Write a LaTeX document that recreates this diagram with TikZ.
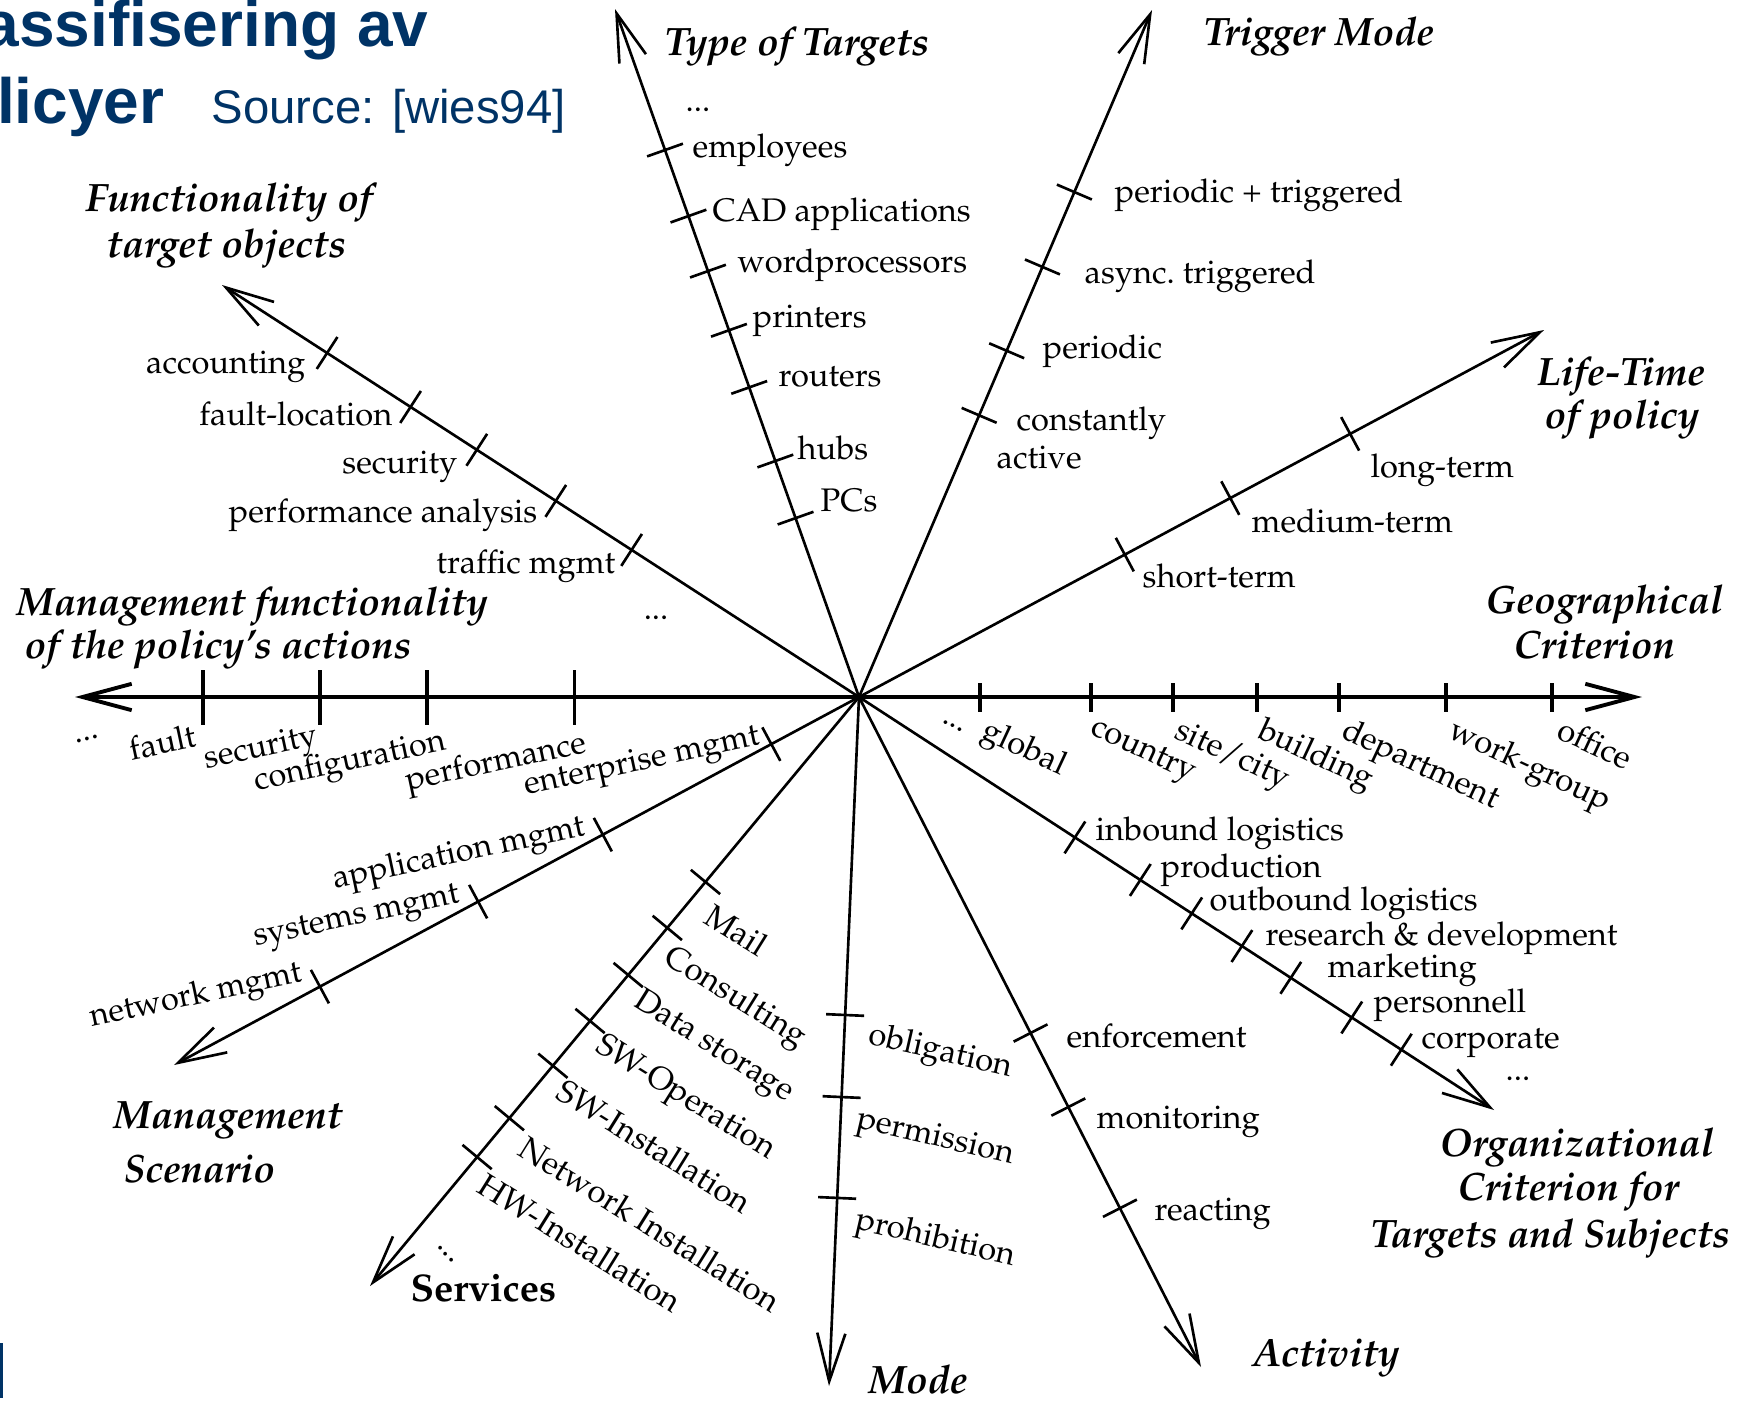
\documentclass[tikz,border=0pt]{standalone}
\usepackage{fontspec}
\newfontfamily\sansT{Liberation Sans}
\usepackage[T1]{fontenc}
\usepackage{mathpazo}
\usetikzlibrary{arrows.meta,calc}
\definecolor{titleblue}{RGB}{0,51,102}
\newcommand\lblfont{\fontsize{9.28}{11}\selectfont}
\newcommand\ttlfont{\fontsize{11.25}{13}\selectfont\bfseries\itshape}
\newcommand\svfont{\fontsize{10.95}{13}\selectfont\bfseries}
\newcommand\axticks[2]{\foreach \f in {#2}{\coordinate (tk) at ($(C)!\f!(#1)$);
  \draw[tickmark] ($(tk)!0.19cm!90:(#1)$) -- ($(tk)!0.19cm!-90:(#1)$);}}
\tikzset{
  axisline/.style={line width=0.75pt,-{Straight Barb[length=13.7pt,width=8pt]}},
  hline/.style={line width=1.1pt,-{Straight Barb[length=14pt,width=7.5pt]}},
  tickmark/.style={line width=0.75pt},
  htick/.style={line width=1.1pt},
  lbl/.style={inner sep=0pt,font=\lblfont},
  ttl/.style={inner sep=0pt,font=\ttlfont},
}
\begin{document}
\begin{tikzpicture}[x=0.01cm,y=-0.01cm]
\useasboundingbox (0,0) rectangle (1743,1403);
\clip (0,0) rectangle (1743,1403);
% title
\node[inner sep=0pt,anchor=base east,text=titleblue,font=\sansT\fontsize{18.2}{20}\selectfont\bfseries] (ttl1) at (429,47) {assifisering av};
\node[inner sep=0pt,anchor=base east,text=titleblue,font=\sansT\fontsize{18.2}{20}\selectfont\bfseries] (ttl2) at (165,123) {licyer};
\node[inner sep=0pt,anchor=base west,text=titleblue,font=\sansT\fontsize{13.45}{16}\selectfont] (src) at (211,123) {Source: [wies94]};
\fill[titleblue] (0,1343) rectangle (3,1398);
% axes
\coordinate (C) at (859,697);
\coordinate (TT) at (615,9);
\coordinate (TM) at (1152,10);
\coordinate (LT) at (1544,330);
\coordinate (GE) at (1642,697);
\coordinate (MF) at (75,697);
\coordinate (FO) at (222,285);
\coordinate (MS) at (174,1065);
\coordinate (SV) at (370,1286);
\coordinate (MO) at (829,1386);
\coordinate (AC) at (1201,1367);
\coordinate (OC) at (1494,1110);
\foreach \t in {TT,TM,LT,FO,MS,SV,MO,AC,OC} \draw[axisline] (C) -- (\t);
\draw[hline] (C) -- (GE);
\draw[hline] (C) -- (MF);
% ticks
\axticks{TT}{0.260,0.343,0.450,0.533,0.619,0.699,0.795}
\axticks{TM}{0.410,0.504,0.626,0.735}
\axticks{LT}{0.388,0.542,0.717}
\axticks{FO}{0.357,0.476,0.600,0.704,0.835}
\axticks{MS}{0.128,0.374,0.556,0.787}
\axticks{SV}{0.314,0.392,0.472,0.550,0.626,0.715,0.781}
\axticks{MO}{0.4615,0.5806,0.727}
\axticks{AC}{0.5015,0.612,0.763}
\axticks{OC}{0.340,0.443,0.524,0.603,0.680,0.776,0.854}
\foreach \x in {980,1091,1173,1257,1339,1446,1552} \draw[htick] (\x,683) -- (\x,712);
\foreach \x in {202.6,320,427,574.5} \draw[htick] (\x,670) -- (\x,725);
% Type of Targets
\node[ttl,anchor=base west] (tTT) at (664,55) {Type of Targets};
\node[lbl,anchor=base west] (tt0) at (685,111) {...};
\node[lbl,anchor=base west] (tt1) at (692,157) {employees};
\node[lbl,anchor=base west] (tt2) at (712,221) {CAD applications};
\node[lbl,anchor=base west] (tt3) at (737,272) {wordprocessors};
\node[lbl,anchor=base west] (tt4) at (752,327) {printers};
\node[lbl,anchor=base west] (tt5) at (778,386) {routers};
\node[lbl,anchor=base west] (tt6) at (797,459) {hubs};
\node[lbl,anchor=base west] (tt7) at (820,511) {PCs};
% Trigger Mode
\node[ttl,anchor=base west] (tTM) at (1203,45) {Trigger Mode};
\node[lbl,anchor=base west] (tm1) at (1114,202) {periodic + triggered};
\node[lbl,anchor=base west] (tm2) at (1084,283) {async.\ triggered};
\node[lbl,anchor=base west] (tm3) at (1042,358) {periodic};
\node[lbl,anchor=base west] (tm4) at (1016,430) {constantly};
\node[lbl,anchor=base west] (tm5) at (996,468) {active};
% Life-Time
\node[ttl,anchor=base west] (tLT1) at (1536,385) {Life-Time};
\node[ttl,anchor=base west] (tLT2) at (1544,428) {of policy};
\node[lbl,anchor=base west] (lt1) at (1370,477) {long-term};
\node[lbl,anchor=base west] (lt2) at (1251,532) {medium-term};
\node[lbl,anchor=base west] (lt3) at (1142,587) {short-term};
% Geographical
\node[ttl,anchor=base west] (tGE1) at (1485,613) {Geographical};
\node[ttl,anchor=base west] (tGE2) at (1513,658) {Criterion};
\node[lbl,rotate=-25] (ge0) at (953,726) {...};
\node[lbl,rotate=-25,anchor=north west] (ge1) at (990,715) {global};
\node[lbl,rotate=-25,anchor=north west] (ge2) at (1097,715) {country};
\node[lbl,rotate=-25,anchor=north west] (ge3) at (1183,715) {site/city};
\node[lbl,rotate=-25,anchor=north west] (ge4) at (1266,715) {building};
\node[lbl,rotate=-25,anchor=north west] (ge5) at (1350,715) {department};
\node[lbl,rotate=-25,anchor=north west] (ge6) at (1457,715) {work-group};
\node[lbl,rotate=-25,anchor=north west] (ge7) at (1565,715) {office};
% Management functionality
\node[ttl,anchor=base west] (tMF1) at (16,615) {Management functionality};
\node[ttl,anchor=base west] (tMF2) at (24,658) {of the policy's actions};
\node[lbl,rotate=12] (mf0) at (87,739) {...};
\node[lbl,rotate=12] (mf1) at (162,742) {fault};
\node[lbl,rotate=12] (mf2) at (261,750) {security};
\node[lbl,rotate=12] (mf3) at (350,763) {configuration};
\node[lbl,rotate=12] (mf4) at (496,764) {performance};
% Functionality of target objects
\node[ttl,anchor=base west] (tFO1) at (85,211) {Functionality of};
\node[ttl,anchor=base west] (tFO2) at (106,257) {target objects};
\node[lbl,anchor=base east] (fo1) at (306,373) {accounting};
\node[lbl,anchor=base east] (fo2) at (393,425) {fault-location};
\node[lbl,anchor=base east] (fo3) at (458,473) {security};
\node[lbl,anchor=base east] (fo4) at (538,522) {performance analysis};
\node[lbl,anchor=base east] (fo5) at (616,573) {traffic mgmt};
\node[lbl] (fo0) at (656,618) {...};
% Management Scenario
\node[ttl,anchor=base west] (tMS1) at (113,1128) {Management};
\node[ttl,anchor=base west] (tMS2) at (123,1182) {Scenario};
\node[lbl,rotate=12] (ms1) at (642,763) {enterprise mgmt};
\node[lbl,rotate=12] (ms2) at (459,855) {application mgmt};
\node[lbl,rotate=12] (ms3) at (357,919) {systems mgmt};
\node[lbl,rotate=12] (ms4) at (196,997) {network mgmt};
% Services
\node[inner sep=0pt,anchor=base west,font=\svfont] (tSV) at (410,1301) {Services};
\node[lbl,rotate=-32,anchor=north west] (sv1) at (715,901) {Mail};
\node[lbl,rotate=-32,anchor=north west] (sv2) at (675,941) {Consulting};
\node[lbl,rotate=-32,anchor=north west] (sv3) at (644,985) {Data storage};
\node[lbl,rotate=-32,anchor=north west] (sv4) at (606,1030) {SW-Operation};
\node[lbl,rotate=-32,anchor=north west] (sv5) at (567,1076) {SW-Installation};
\node[lbl,rotate=-32,anchor=north west] (sv6) at (529,1133) {Network Installation};
\node[lbl,rotate=-32,anchor=north west] (sv7) at (488,1170) {HW-Installation};
\node[lbl,rotate=-45] (sv0) at (446,1254) {...};
% Mode
\node[ttl,anchor=base west] (tMO) at (868,1393) {Mode};
\node[lbl,rotate=-13] (mo1) at (940,1053) {obligation};
\node[lbl,rotate=-13] (mo2) at (935,1139) {permission};
\node[lbl,rotate=-13] (mo3) at (935,1240) {prohibition};
% Activity
\node[ttl,anchor=base west] (tAC) at (1252,1366) {Activity};
\node[lbl,anchor=base west] (ac1) at (1066,1047) {enforcement};
\node[lbl,anchor=base west] (ac2) at (1096,1128) {monitoring};
\node[lbl,anchor=base west] (ac3) at (1154,1220) {reacting};
% Organizational
\node[ttl,anchor=base west] (tOC1) at (1439,1156) {Organizational};
\node[ttl,anchor=base west] (tOC2) at (1457,1200) {Criterion for};
\node[ttl,anchor=base west] (tOC3) at (1370,1247) {Targets and Subjects};
\node[lbl,anchor=base west] (oc1) at (1095,840) {inbound logistics};
\node[lbl,anchor=base west] (oc2) at (1160,877) {production};
\node[lbl,anchor=base west] (oc3) at (1209,910) {outbound logistics};
\node[lbl,anchor=base west] (oc4) at (1265,945) {research \& development};
\node[lbl,anchor=base west] (oc5) at (1327,977) {marketing};
\node[lbl,anchor=base west] (oc6) at (1373,1012) {personnell};
\node[lbl,anchor=base west] (oc7) at (1421,1048) {corporate};
\node[lbl,anchor=base west] (oc0) at (1505,1080) {...};
\end{tikzpicture}
\end{document}
